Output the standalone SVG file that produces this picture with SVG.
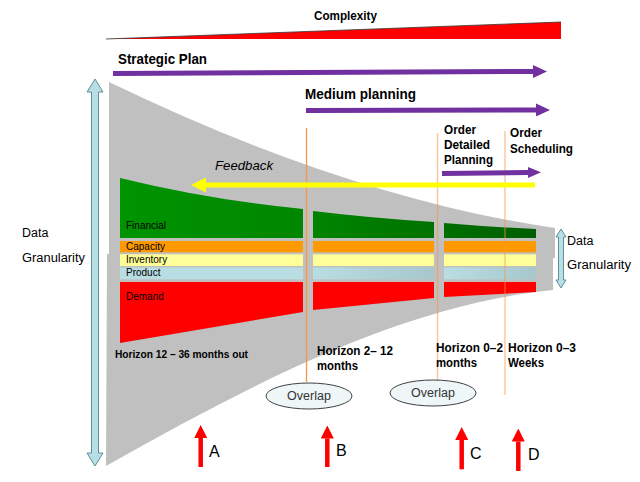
<svg xmlns="http://www.w3.org/2000/svg" width="640" height="482" viewBox="0 0 640 482">
<style>
.t{font-family:"Liberation Sans",Arial,sans-serif;fill:#000}
.b{font-weight:bold}
.hd{font-size:13.5px;font-weight:bold}
.band{font-size:10px}
.gray{fill:#c0c0c0}
.or{fill:#ff9900}.ye{fill:#ffff99}.rd{fill:#ff0000}
.vl{stroke:#f79646;stroke-width:1.4;stroke-opacity:0.55;fill:none}
.pu{stroke:#7030a0;stroke-width:5;fill:none}
.rarr{stroke:#ff0000;stroke-width:4.5;fill:none}
.dg{fill:#b8dee6;stroke:#5f8f9a;stroke-width:1}
.ov{fill:#eef6f8;stroke:#404040;stroke-width:1}
</style>
<defs>
<marker id="mp" viewBox="0 0 14 13" refX="0" refY="6.5" markerWidth="14" markerHeight="13" markerUnits="userSpaceOnUse" orient="auto"><path d="M0,0 L14,6.5 L0,13 Z" fill="#7030a0"/></marker>
<marker id="mp2" viewBox="0 0 13 11" refX="0" refY="5.5" markerWidth="13" markerHeight="11" markerUnits="userSpaceOnUse" orient="auto"><path d="M0,0 L13,5.5 L0,11 Z" fill="#7030a0"/></marker>
<marker id="my" viewBox="0 0 15 15" refX="0" refY="7.5" markerWidth="15" markerHeight="15" markerUnits="userSpaceOnUse" orient="auto"><path d="M0,0 L15,7.5 L0,15 Z" fill="#ffff00"/></marker>
<marker id="mr" viewBox="0 0 13 13" refX="0" refY="6.5" markerWidth="13" markerHeight="13" markerUnits="userSpaceOnUse" orient="auto"><path d="M0,0 L13,6.5 L0,13 Z" fill="#ff0000"/></marker>
<linearGradient id="g1" x1="0" x2="1" y1="0" y2="0"><stop offset="0" stop-color="#009400"/><stop offset="1" stop-color="#008600"/></linearGradient>
<linearGradient id="g2" x1="0" x2="1" y1="0" y2="0"><stop offset="0" stop-color="#008400"/><stop offset="1" stop-color="#007200"/></linearGradient>
<linearGradient id="g3" x1="0" x2="1" y1="0" y2="0"><stop offset="0" stop-color="#006e00"/><stop offset="1" stop-color="#005e00"/></linearGradient>
<linearGradient id="bl" x1="0" x2="1" y1="0" y2="0"><stop offset="0" stop-color="#b8dde3"/><stop offset="1" stop-color="#a6c8cd"/></linearGradient>
</defs>

<g id="complexity">
<polygon points="106,39 561,22 561,39" fill="#ff0000"/>
<line x1="106" y1="39" x2="561" y2="22" stroke="#333" stroke-width="0.8"/>
<text class="t b" x="314" y="20" font-size="12" textLength="63" lengthAdjust="spacingAndGlyphs">Complexity</text>
</g>

<g id="funnel">
<path class="gray" d="M109,82 C250,150 400,205 555,228 L555,258 L109,258 Z"/>
<path class="gray" d="M107,254 L553,254 L553,290 C400,305 250,385 106,466 Z"/>
</g>

<g id="segment1">
<path d="M120,178 Q210,200 303,209 L303,238 L120,238 Z" fill="url(#g1)"/>
<rect class="or" x="120" y="241" width="183" height="11.3"/>
<rect class="ye" x="120" y="254.3" width="183" height="11.7"/>
<rect x="120" y="267.5" width="183" height="11.8" fill="#b8dde3"/>
<path class="rd" d="M120,282 L303,282 L303,312 L120,343 Z"/>
<text class="t band" x="126" y="229">Financial</text>
<text class="t band" x="126" y="250">Capacity</text>
<text class="t band" x="126" y="263">Inventory</text>
<text class="t band" x="126" y="276">Product</text>
<text class="t band" x="126" y="300">Demand</text>
</g>

<g id="segment2">
<path d="M313,211 Q370,218 434,222 L434,238 L313,238 Z" fill="url(#g2)"/>
<rect class="or" x="313" y="241" width="121" height="11.3"/>
<rect class="ye" x="313" y="254.3" width="121" height="11.7"/>
<rect x="313" y="267.5" width="121" height="11.8" fill="url(#bl)"/>
<path class="rd" d="M313,282 L434,282 L434,298 L313,310 Z"/>
</g>

<g id="segment3">
<path d="M444,223 Q490,227 536,229 L536,238 L444,238 Z" fill="url(#g3)"/>
<rect class="or" x="444" y="241" width="92" height="11.3"/>
<rect class="ye" x="444" y="254.3" width="92" height="11.7"/>
<rect x="444" y="267.5" width="92" height="11.8" fill="url(#bl)"/>
<path class="rd" d="M444,282 L536,282 L536,292 L444,297 Z"/>
</g>

<g id="horizon-lines">
<line x1="306.5" y1="128" x2="306.5" y2="382" stroke="#f79646" stroke-width="1.3"/>
<line class="vl" x1="437.5" y1="133" x2="437.5" y2="380"/>
<line class="vl" x1="505" y1="131" x2="505" y2="395"/>
</g>

<g id="data-granularity-left">
<polygon class="dg" points="95,79 103,92 98.5,92 98.5,453 103,453 95,466 87,453 91.5,453 91.5,92 87,92"/>
<text class="t" x="22" y="237" font-size="12.5">Data</text>
<text class="t" x="22" y="262" font-size="12.5" textLength="63" lengthAdjust="spacingAndGlyphs">Granularity</text>
</g>

<g id="data-granularity-right">
<polygon class="dg" points="561,229 566,237 563.5,237 563.5,280 566,280 561,288 556,280 558.5,280 558.5,237 556,237"/>
<text class="t" x="567" y="245" font-size="12.5">Data</text>
<text class="t" x="567" y="269" font-size="12.5" textLength="64" lengthAdjust="spacingAndGlyphs">Granularity</text>
</g>

<g id="labels">
<text class="t b" x="118" y="64" font-size="15" textLength="89" lengthAdjust="spacingAndGlyphs">Strategic Plan</text>
<text class="t b" x="305" y="99" font-size="15" textLength="111" lengthAdjust="spacingAndGlyphs">Medium planning</text>
<text class="t hd" x="444" y="134" textLength="32" lengthAdjust="spacingAndGlyphs">Order</text>
<text class="t hd" x="444" y="149" textLength="46" lengthAdjust="spacingAndGlyphs">Detailed</text>
<text class="t hd" x="444" y="164" textLength="49" lengthAdjust="spacingAndGlyphs">Planning</text>
<text class="t hd" x="510" y="137" textLength="32" lengthAdjust="spacingAndGlyphs">Order</text>
<text class="t hd" x="510" y="153" textLength="63" lengthAdjust="spacingAndGlyphs">Scheduling</text>
<text class="t" x="215" y="170" font-size="13" font-style="italic" textLength="58" lengthAdjust="spacingAndGlyphs">Feedback</text>
<text class="t b" x="115" y="358" font-size="10" textLength="133" lengthAdjust="spacingAndGlyphs">Horizon 12 – 36 months out</text>
<text class="t hd" x="317" y="355" textLength="76" lengthAdjust="spacingAndGlyphs">Horizon 2– 12</text>
<text class="t hd" x="317" y="370" textLength="41" lengthAdjust="spacingAndGlyphs">months</text>
<text class="t hd" x="436" y="352" textLength="67" lengthAdjust="spacingAndGlyphs">Horizon 0–2</text>
<text class="t hd" x="436" y="367" textLength="41" lengthAdjust="spacingAndGlyphs">months</text>
<text class="t hd" x="508" y="352" textLength="68" lengthAdjust="spacingAndGlyphs">Horizon 0–3</text>
<text class="t hd" x="508" y="367" textLength="36" lengthAdjust="spacingAndGlyphs">Weeks</text>
</g>

<g id="overlap1">
<ellipse class="ov" cx="309" cy="396" rx="43" ry="13"/>
<text class="t" x="309" y="400" font-size="12.5" fill="#333" text-anchor="middle" style="fill:#333">Overlap</text>
</g>
<g id="overlap2">
<ellipse class="ov" cx="433" cy="393" rx="43" ry="13"/>
<text class="t" x="433" y="397" font-size="12.5" text-anchor="middle" style="fill:#333">Overlap</text>
</g>

<g id="connectors">
<line class="pu" x1="113" y1="73.5" x2="533" y2="71.5" marker-end="url(#mp)"/>
<line class="pu" x1="306" y1="110.5" x2="536" y2="110" marker-end="url(#mp)"/>
<line class="pu" x1="442" y1="173.5" x2="528" y2="172.5" stroke-width="4.5" marker-end="url(#mp2)"/>
<line x1="535" y1="185" x2="206" y2="185" stroke="#ffff00" stroke-width="5" marker-end="url(#my)"/>
<line class="rarr" x1="200.7" y1="467" x2="200.7" y2="438" marker-end="url(#mr)"/>
<line class="rarr" x1="327.3" y1="467" x2="327.3" y2="438.5" marker-end="url(#mr)"/>
<line class="rarr" x1="461.7" y1="469.3" x2="461.7" y2="440" marker-end="url(#mr)"/>
<line class="rarr" x1="518.3" y1="471" x2="518.3" y2="441.5" marker-end="url(#mr)"/>
</g>

<g id="arrow-labels">
<text class="t" x="209" y="457" font-size="16">A</text>
<text class="t" x="336" y="456" font-size="16">B</text>
<text class="t" x="470" y="459" font-size="16">C</text>
<text class="t" x="528" y="460" font-size="16">D</text>
</g>
</svg>
